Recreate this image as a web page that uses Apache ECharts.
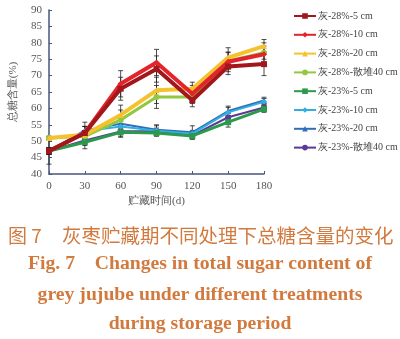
<!DOCTYPE html>
<html><head><meta charset="utf-8">
<script src="https://cdn.jsdelivr.net/npm/echarts@6/dist/echarts.min.js"></script>
<style>html,body{margin:0;padding:0;background:#fff}#c{width:400px;height:339px}</style>
</head><body><div id="c"></div>
<script>
var days = [0, 30, 60, 90, 120, 150, 180];
var seriesNames = ['灰-28%-5 cm','灰-28%-10 cm','灰-28%-20 cm','灰-28%-散堆40 cm','灰-23%-5 cm','灰-23%-10 cm','灰-23%-20 cm','灰-23%-散堆40 cm'];
var v28_5  = [47, 52.5, 66, 72, 62.5, 72.8, 73.5];
var v28_10 = [47, 52.5, 67.5, 74, 64.5, 74.2, 76.5];
var v28_20 = [51, 52, 58, 65.5, 66, 75.5, 79];
var v28_40 = [51, 51.5, 56.5, 63.5, 63.5, 74.5, 77];
var v23_5  = [47, 49.7, 52.7, 52.5, 51.6, 55.8, 59.8];
var v23_10 = [47, 53, 54.5, 53.2, 52.3, 58.8, 62];
var v23_20 = [47, 53.3, 55.3, 53.5, 52.7, 59.2, 62.4];
var v23_40 = [47, 50.2, 53, 53, 51.8, 57.3, 60.3];
var e28_5  = [1, 2, 3.5, 4, 2, 2.5, 3.5];
var e28_10 = [1, 2, 4, 4, 2.5, 3, 3.5];
var e28_20 = [0.5, 1, 3, 4, 2, 3, 2];
var e28_40 = [0.5, 1, 3, 3.5, 2, 2.5, 2];
var e23_5  = [1, 2, 1.5, 1, 1, 1.5, 1];
var e23_10 = [1, 1.5, 1.5, 1.5, 1, 1.5, 1];
var e23_20 = [4, 2.5, 1.5, 1.5, 2, 1.5, 1];
var e23_40 = [1, 1.5, 1.5, 1, 1, 1.5, 1];
var values = [v28_5, v28_10, v28_20, v28_40, v23_5, v23_10, v23_20, v23_40];
var errors = [e28_5, e28_10, e28_20, e28_40, e23_5, e23_10, e23_20, e23_40];
var colors = ['#a3161b','#e3242b','#f6c12f','#92c83e','#2b9a4c','#31aee3','#2e6fb7','#5b3a95'];
var symbols = ['rect','diamond','triangle','circle','rect','diamond','triangle','circle'];
var widths = [4,4,4,3,3,2,2,2];

var chart = echarts.init(document.getElementById('c'));
var series = [];
var errData = [];
for (var i = 0; i < values.length; i++) {
  for (var j = 0; j < days.length; j++) {
    errData.push([days[j], values[i][j] - errors[i][j], values[i][j] + errors[i][j]]);
  }
}
series.push({
  type: 'custom', silent: true, z: 1,
  data: errData,
  renderItem: function (params, api) {
    var x = api.value(0);
    var lo = api.coord([x, api.value(1)]);
    var hi = api.coord([x, api.value(2)]);
    var st = {stroke: '#222', lineWidth: 0.8};
    return {type: 'group', children: [
      {type: 'line', shape: {x1: lo[0], y1: lo[1], x2: hi[0], y2: hi[1]}, style: st},
      {type: 'line', shape: {x1: lo[0]-2.5, y1: lo[1], x2: lo[0]+2.5, y2: lo[1]}, style: st},
      {type: 'line', shape: {x1: hi[0]-2.5, y1: hi[1], x2: hi[0]+2.5, y2: hi[1]}, style: st}
    ]};
  }
});
for (var i = 0; i < values.length; i++) {
  series.push({
    name: seriesNames[i], type: 'line', z: 2 + (values.length - i),
    data: days.map(function (d, j) { return [d, values[i][j]]; }),
    symbol: symbols[i], symbolSize: 6, showSymbol: true,
    lineStyle: {color: colors[i], width: widths[i]},
    itemStyle: {color: colors[i]}
  });
}
var cap = '#d27a3e';
chart.setOption({
  animation: false,
  grid: {left: 43, top: 10, width: 221, height: 164},
  legend: {
    data: seriesNames, orient: 'vertical', left: 288, top: 6, itemGap: 8.8,
    itemWidth: 22, itemHeight: 7,
    textStyle: {fontFamily: 'Liberation Serif', fontSize: 10, color: '#444', padding: [0,0,0,-3]}
  },
  xAxis: {
    type: 'value', min: 0, max: 180, interval: 30,
    name: '贮藏时间(d)', nameLocation: 'middle', nameGap: 22,
    nameTextStyle: {fontFamily: 'Liberation Serif', fontSize: 11, color: '#555'},
    axisLine: {lineStyle: {color: '#46557e', width: 1.5}},
    axisTick: {inside: true, length: 3, lineStyle: {color: '#46557e'}},
    axisLabel: {fontFamily: 'Liberation Serif', fontSize: 11, color: '#555', margin: 7},
    splitLine: {show: false}
  },
  yAxis: {
    type: 'value', min: 40, max: 90, interval: 5,
    name: '总糖含量(%)', nameLocation: 'middle', nameGap: 30, nameRotate: 90,
    nameTextStyle: {fontFamily: 'Liberation Serif', fontSize: 11, color: '#555'},
    axisLine: {show: true, lineStyle: {color: '#46557e', width: 1.5}},
    axisTick: {show: true, inside: true, length: 3, lineStyle: {color: '#46557e'}},
    axisLabel: {fontFamily: 'Liberation Serif', fontSize: 11, color: '#555', margin: 7},
    splitLine: {show: false}
  },
  graphic: [
    {type: 'text', left: 8, top: 226, style: {text: '图 7', fontSize: 19, fill: cap, fontFamily: 'Noto Sans CJK SC'}},
    {type: 'text', left: 62, top: 226, style: {text: '灰枣贮藏期不同处理下总糖含量的变化', fontSize: 19.5, fill: cap, fontFamily: 'Noto Sans CJK SC'}},
    {type: 'text', left: 'center', top: 254, style: {text: 'Fig. 7    Changes in total sugar content of', fontSize: 19.7, fontWeight: 'bold', fill: cap, fontFamily: 'Liberation Serif'}},
    {type: 'text', left: 'center', top: 285, style: {text: 'grey jujube under different treatments', fontSize: 19.7, fontWeight: 'bold', fill: cap, fontFamily: 'Liberation Serif'}},
    {type: 'text', left: 'center', top: 314, style: {text: 'during storage period', fontSize: 19.7, fontWeight: 'bold', fill: cap, fontFamily: 'Liberation Serif'}}
  ],
  series: series
});
</script></body></html>
